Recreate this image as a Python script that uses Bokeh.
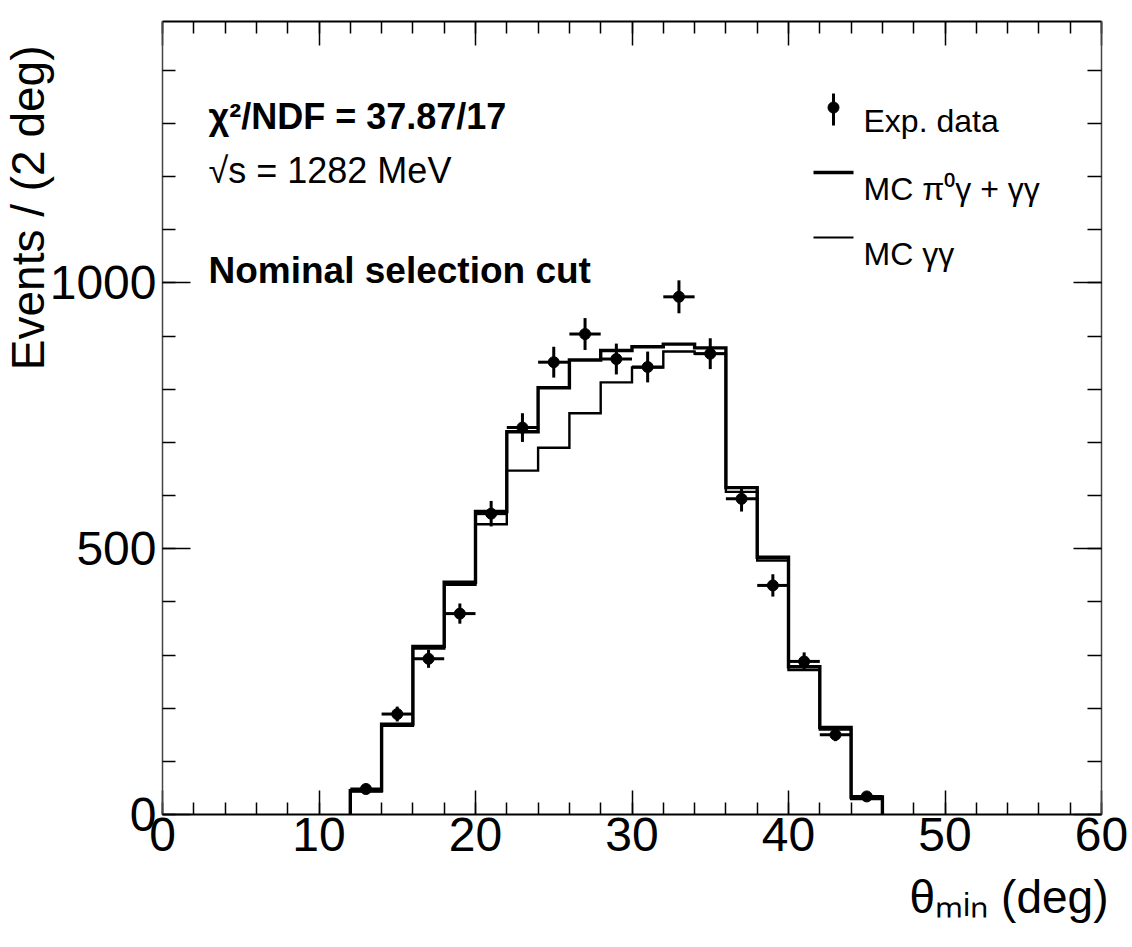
from bokeh.plotting import figure
from bokeh.models import Range1d, FixedTicker, LinearAxis, Label, Title
from bokeh.embed import file_html
from bokeh.resources import INLINE

# ---------------- data ----------------
bin_low = [12, 14, 16, 18, 20, 22, 24, 26, 28, 30, 32, 34, 36, 38, 40, 42, 44]
bin_width = 2
data_x = [13, 15, 17, 19, 21, 23, 25, 27, 29, 31, 33, 35, 37, 39, 41, 43, 45]
data_y = [48, 189, 293, 378, 566, 728, 851, 904, 857, 842, 974, 867, 594, 431, 288, 150, 34]
data_err = [7, 14, 17, 19, 24, 27, 29, 30, 29, 29, 31, 29, 24, 21, 17, 12, 6]
mc_total = [45, 170, 316, 437, 570, 720, 803, 855, 873, 880, 885, 878, 615, 484, 278, 164, 33]
mc_gg = [43, 167, 312, 432, 546, 647, 690, 755, 813, 841, 871, 867, 607, 478, 272, 160, 29]

x_major = [0, 10, 20, 30, 40, 50, 60]
x_minor = list(range(0, 61, 2))
y_major = [0, 500, 1000]
y_minor = list(range(0, 1500, 100))

x_title = "\u03b8\u2098\u1d62\u2099 (deg)"
y_title = "Events / (2 deg)"

XMIN, XMAX = 0, 60
YMIN, YMAX = 0, 1492
FONT = "Liberation Sans"

FRAME_W, FRAME_H = 939, 793


def step_path(lows, width, vals):
    xs = [lows[0]]
    ys = [0]
    for lo, v in zip(lows, vals):
        xs += [lo, lo + width]
        ys += [v, v]
    xs.append(lows[-1] + width)
    ys.append(0)
    return xs, ys


def sx(px):  # frame-relative screen px -> data x
    return XMIN + px / FRAME_W * (XMAX - XMIN)


def sy(px):  # frame-relative screen px (from bottom) -> data y
    return YMIN + px / FRAME_H * (YMAX - YMIN)


p = figure(width=1132, height=947,
           x_range=Range1d(XMIN, XMAX), y_range=Range1d(YMIN, YMAX),
           output_backend="svg", toolbar_location=None,
           min_border_left=162, min_border_right=31,
           min_border_top=21, min_border_bottom=133)
p.grid.visible = False
p.outline_line_color = None
p.background_fill_color = "white"
p.border_fill_color = "white"

# ---------------- axes ----------------
def style_axis(ax, major_len, minor_len, line_w, line_c):
    ax.major_tick_in = major_len
    ax.major_tick_out = 0
    ax.minor_tick_in = minor_len
    ax.minor_tick_out = 0
    ax.axis_line_width = line_w
    ax.axis_line_color = line_c
    ax.major_tick_line_color = "black"
    ax.minor_tick_line_color = "black"
    ax.major_tick_line_width = 1.5
    ax.minor_tick_line_width = 1.5
    ax.major_label_text_font = FONT
    ax.major_label_text_color = "black"
    ax.major_label_text_font_size = "48px"


xb = p.xaxis[0]
xb.ticker = FixedTicker(ticks=x_major, minor_ticks=x_minor)
style_axis(xb, 24, 12, 2, "black")
xb.major_label_standoff = 3

yl = p.yaxis[0]
yl.ticker = FixedTicker(ticks=y_major, minor_ticks=y_minor)
style_axis(yl, 28, 13, 1.5, "#444444")
yl.major_label_standoff = 6

xt = LinearAxis(ticker=FixedTicker(ticks=x_major, minor_ticks=x_minor))
style_axis(xt, 24, 12, 2, "black")
xt.major_label_overrides = {t: "" for t in x_major}
xt.major_label_standoff = 0
p.add_layout(xt, "above")

yr = LinearAxis(ticker=FixedTicker(ticks=y_major, minor_ticks=y_minor))
style_axis(yr, 28, 14, 1.5, "#444444")
yr.major_label_overrides = {t: "" for t in y_major}
yr.major_label_standoff = 0
p.add_layout(yr, "right")

# axis titles, right/top aligned as in the reference
p.add_layout(Title(text=x_title, align="right", offset=-7, standoff=30,
                   text_font=FONT, text_font_size="46px", text_font_style="normal",
                   text_color="black"), "below")
p.add_layout(Title(text=y_title, align="right", offset=24, standoff=-15,
                   text_font=FONT, text_font_size="46px", text_font_style="normal",
                   text_color="black"), "left")

# ---------------- histograms ----------------
gx, gy = step_path(bin_low, bin_width, mc_gg)
p.line(gx, gy, line_width=2.4, line_color="black", line_join="miter")
tx, ty = step_path(bin_low, bin_width, mc_total)
p.line(tx, ty, line_width=3.4, line_color="black", line_join="miter")

# ---------------- data points ----------------
p.segment(x0=[x - bin_width / 2 for x in data_x], x1=[x + bin_width / 2 for x in data_x],
          y0=data_y, y1=data_y, line_width=3, line_color="black")
p.segment(x0=data_x, x1=data_x,
          y0=[y - e for y, e in zip(data_y, data_err)],
          y1=[y + e for y, e in zip(data_y, data_err)],
          line_width=3, line_color="black")
p.scatter(data_x, data_y, size=11, marker="circle", fill_color="black", line_color="black")

# ---------------- legend (frame-relative screen px) ----------------
LEG_GLYPH_X0, LEG_GLYPH_X1 = 651, 691
LEG_MARK_X, LEG_MARK_Y = 671, 707
LEG_BAR_Y0, LEG_BAR_Y1 = 689, 721
LEG_LINE1_Y, LEG_LINE2_Y = 642, 577
LEG_TEXT_X = 701
LEG_TEXT_Y = [694, 626, 561]
leg_labels = ["Exp. data", "MC \u03c0\u2070\u03b3 + \u03b3\u03b3", "MC \u03b3\u03b3"]

p.segment(x0=[sx(LEG_MARK_X)], x1=[sx(LEG_MARK_X)], y0=[sy(LEG_BAR_Y0)], y1=[sy(LEG_BAR_Y1)],
          line_width=3, line_color="black")
p.scatter([sx(LEG_MARK_X)], [sy(LEG_MARK_Y)], size=11, marker="circle",
          fill_color="black", line_color="black")
p.line([sx(LEG_GLYPH_X0), sx(LEG_GLYPH_X1)], [sy(LEG_LINE1_Y)] * 2, line_width=3.4, line_color="black")
p.line([sx(LEG_GLYPH_X0), sx(LEG_GLYPH_X1)], [sy(LEG_LINE2_Y)] * 2, line_width=2.2, line_color="black")

for txt, yy in zip(leg_labels, LEG_TEXT_Y):
    p.add_layout(Label(x=LEG_TEXT_X, y=yy, x_units="screen", y_units="screen", text=txt,
                       text_font=FONT, text_font_size="32px", text_color="black",
                       text_align="left", text_baseline="alphabetic"))

# ---------------- in-plot texts ----------------
p.add_layout(Label(x=46, y=698, x_units="screen", y_units="screen",
                   text="\u03c7\u00b2/NDF = 37.87/17", text_font=FONT,
                   text_font_size="36px", text_font_style="bold", text_color="black",
                   text_baseline="alphabetic"))
p.add_layout(Label(x=46, y=644, x_units="screen", y_units="screen",
                   text="\u221as = 1282 MeV", text_font=FONT,
                   text_font_size="36px", text_color="black", text_baseline="alphabetic"))
p.add_layout(Label(x=46, y=544, x_units="screen", y_units="screen",
                   text="Nominal selection cut", text_font=FONT,
                   text_font_size="37px", text_font_style="bold", text_color="black",
                   text_baseline="alphabetic"))

open("out.html", "w").write(file_html(p, INLINE))
